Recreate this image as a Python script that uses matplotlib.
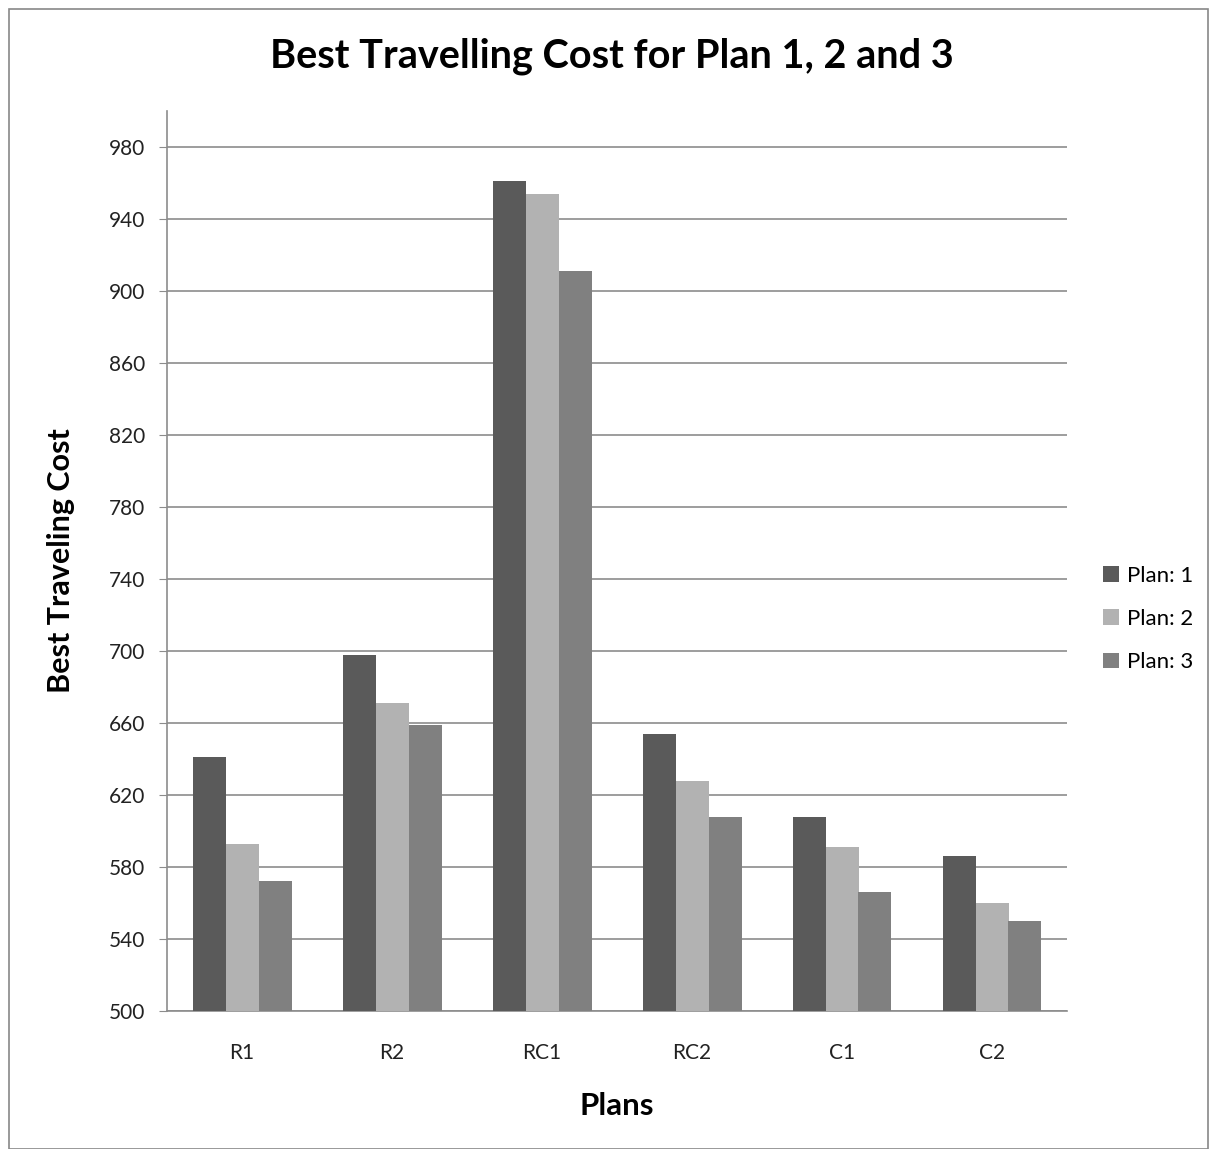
import matplotlib
matplotlib.use("Agg")
import matplotlib.pyplot as plt
import numpy as np
from matplotlib.patches import Rectangle

categories = ["R1", "R2", "RC1", "RC2", "C1", "C2"]
plan1 = [641, 698, 961, 654, 608, 586]
plan2 = [593, 671, 954, 628, 591, 560]
plan3 = [572, 659, 911, 608, 566, 550]
series_names = ["Plan: 1", "Plan: 2", "Plan: 3"]
yticks = list(range(500, 1000, 40))

plt.rcParams['font.family'] = ['Lato', 'DejaVu Sans']

fig = plt.figure(figsize=(12.09, 11.49), dpi=100)
fig.patches.append(Rectangle((9/1209, 0), 1 - 9/1209 - 0.001, 1 - 9/1149, transform=fig.transFigure,
                             fill=False, edgecolor='#888888', linewidth=1.2))
ax = fig.add_axes([167/1209, 1 - 1011/1149, 900/1209, 900/1149])

colors = ['#5a5a5a', '#b2b2b2', '#808080']
x = np.arange(len(categories))
w = 0.22
for i, (vals, name, c) in enumerate(zip([plan1, plan2, plan3], series_names, colors)):
    ax.bar(x + (i - 1) * w, np.array(vals) - 500, width=w, bottom=500, color=c, label=name, zorder=3)

ax.set_xlim(-0.5, len(categories) - 0.5)
ax.set_ylim(500, 1000)
ax.set_yticks(yticks)
ax.set_xticks(x)
ax.set_xticklabels(categories)
ax.grid(axis='y', color='#8c8c8c', linewidth=1.2, zorder=0)
for s in ['top', 'right']:
    ax.spines[s].set_visible(False)
ax.spines['left'].set_color('#8c8c8c')
ax.spines['bottom'].set_color('#8c8c8c')
ax.spines['left'].set_linewidth(1.2)
ax.spines['bottom'].set_linewidth(1.2)
ax.tick_params(axis='y', length=6, color='#8c8c8c', labelsize=15, pad=10, labelcolor='#222222')
ax.tick_params(axis='x', length=0, labelsize=15, pad=23, labelcolor='#222222')

ax.set_ylabel("Best Traveling Cost", fontsize=22, fontweight='bold', labelpad=24)
ax.set_xlabel("Plans", fontsize=22.5, fontweight='bold', labelpad=21)
fig.text(612/1209, 1 - 56/1149, "Best Travelling Cost for Plan 1, 2 and 3", ha='center', va='center',
         fontsize=28.5, fontweight='bold')

leg = ax.legend(loc='center left', bbox_to_anchor=(1083/1209, 1 - 619/1149), bbox_transform=fig.transFigure,
                frameon=False, fontsize=16, handlelength=0.7, handleheight=0.7, labelspacing=1.05,
                handletextpad=0.4)

fig.savefig("out.png", dpi=100, facecolor='white')
